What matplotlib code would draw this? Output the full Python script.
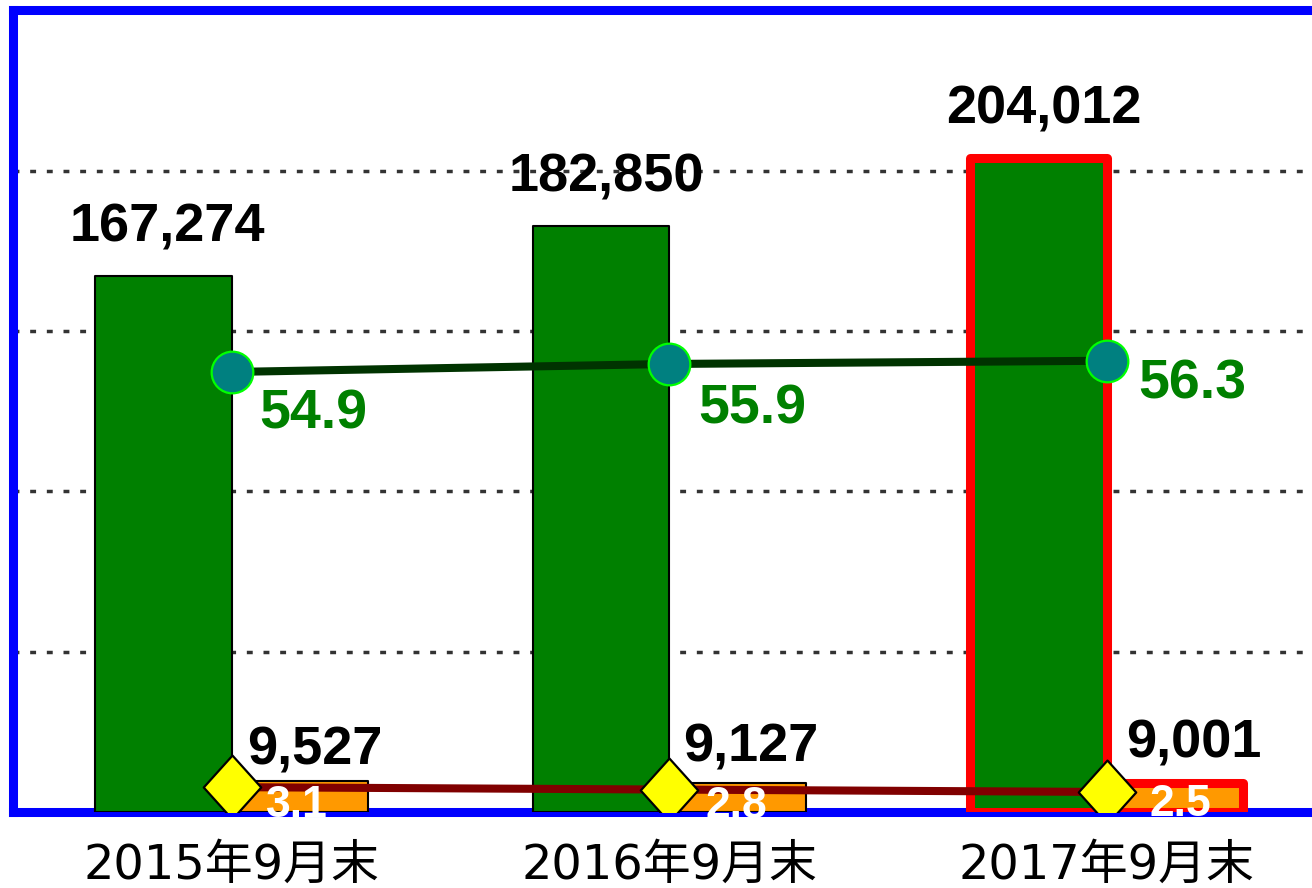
import numpy as np
import matplotlib
matplotlib.use("Agg")
import matplotlib.pyplot as plt
from matplotlib.path import Path
import matplotlib.transforms as mtransforms

# ---- data ----
categories = ['2015年9月末', '2016年9月末', '2017年9月末']
totals = [167274, 182850, 204012]
smalls = [9527, 9127, 9001]
line_top = [54.9, 55.9, 56.3]
line_bottom = [3.1, 2.8, 2.5]

# ---- styling ----
W, H = 1312, 888
fig = plt.figure(figsize=(W / 100, H / 100), dpi=100)
ax_left = 13 / W
ax_bottom = (H - 812) / H
ax_w = 1312.5 / W
ax_h = (812 - 10.5) / H
ax = fig.add_axes([ax_left, ax_bottom, ax_w, ax_h])
ax.set_xlim(-0.5, 2.5)
ax.set_ylim(0, 250000)

blue = '#0000FF'
for side in ['left', 'top', 'bottom']:
    ax.spines[side].set_color(blue)
    ax.spines[side].set_linewidth(6.5)
    ax.spines[side].set_capstyle('projecting')
    ax.spines[side].set_zorder(2.5)
ax.spines['right'].set_visible(False)
ax.set_xticks([])
ax.set_yticks([])

# grid lines
for gy in [50000, 100000, 150000, 200000]:
    ax.axhline(gy, color='#333333', lw=2.5, linestyle=(0, (1.7, 3.1)), zorder=1)

x = np.arange(len(categories))
bw = 0.312
edge_cols = ['black', 'black', '#FF0000']
edge_lws = [1.5, 1.5, 6.5]
b1 = ax.bar(x - bw / 2, totals, bw, color='#008000', edgecolor=edge_cols,
            linewidth=edge_lws, zorder=3)
b2 = ax.bar(x + bw / 2, smalls, bw, color='#FF9900', edgecolor=edge_cols,
            linewidth=edge_lws, zorder=3)
for p in list(b1) + list(b2):
    p.set_joinstyle('round')

numfont = dict(family='Liberation Sans', weight='bold')

# value labels on bars
big_dx = [4, 5, 5]
for i, v in enumerate(totals):
    ax.annotate(f'{v:,}', (x[i] - bw / 2, v), xytext=(big_dx[i], 34),
                textcoords='offset pixels', ha='center', va='baseline',
                fontsize=39, color='black', zorder=6, **numfont)
small_dx = [15, 13, 19]
small_dy = [17, 21, 26]
for i, v in enumerate(smalls):
    ax.annotate(f'{v:,}', (x[i] + bw / 2, v), xytext=(small_dx[i], small_dy[i]),
                textcoords='offset pixels', ha='center', va='baseline',
                fontsize=39, color='black', zorder=6, **numfont)

# category labels
trans = mtransforms.blended_transform_factory(ax.transData, ax.transAxes)
for i, c in enumerate(categories):
    ax.annotate(c, (x[i], 0), xycoords=trans, xytext=(0, -67),
                textcoords='offset pixels', ha='center', va='baseline',
                fontsize=34.5, family=['DejaVu Sans', 'Noto Sans CJK JP'],
                color='black', annotation_clip=False)

# secondary axis with lines
ax2 = ax.twinx()
ax2.set_position([ax_left, ax_bottom, ax_w, ax_h])
ax2.set_ylim(0, 100)
ax2.set_xlim(-0.5, 2.5)
for s in ax2.spines.values():
    s.set_visible(False)
ax2.set_yticks([])
ax2.set_xticks([])

ax2.plot(x, line_top, color='#003300', lw=5.8, zorder=4, solid_capstyle='butt',
         marker='o', markersize=30, markerfacecolor='#008080',
         markeredgecolor='#00FF00', markeredgewidth=1.6)
diamond = Path([(0, 1), (0.9, 0), (0, -1), (-0.9, 0), (0, 1)],
               [Path.MOVETO, Path.LINETO, Path.LINETO, Path.LINETO, Path.CLOSEPOLY])
ax2.plot(x, line_bottom, color='#800000', lw=5.8, zorder=4, solid_capstyle='butt',
         marker=diamond, markersize=46, markerfacecolor='#FFFF00',
         markeredgecolor='black', markeredgewidth=1.6)

top_dx = [82, 83, 86]
top_dy = [-57, -60, -38]
for i, v in enumerate(line_top):
    ax2.annotate(f'{v}', (x[i], v), xytext=(top_dx[i], top_dy[i]),
                 textcoords='offset pixels', ha='center', va='baseline',
                 fontsize=40, color='#008000', zorder=6, **numfont)
bot_dx = [65, 67, 74]
bot_dy = [-30, -28, -24]
for i, v in enumerate(line_bottom):
    ax2.annotate(f'{v}', (x[i], v), xytext=(bot_dx[i], bot_dy[i]),
                 textcoords='offset pixels', ha='center', va='baseline',
                 fontsize=32, color='white', zorder=6, annotation_clip=False,
                 **numfont)

fig.savefig('out.png', dpi=100)
